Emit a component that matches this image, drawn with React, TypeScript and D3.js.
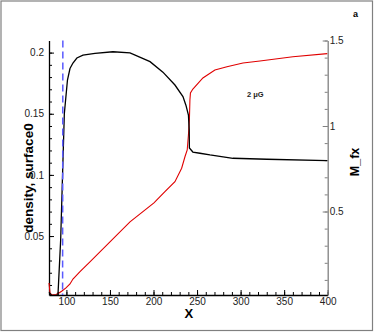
import React, { useEffect, useRef } from 'react';
import * as d3 from 'd3';

// density (left axis), black
const densityX = [80, 83, 88, 90.3, 93.4, 97.6, 101.2, 104.1, 107.5, 112, 119, 132.8, 153.4, 173, 196, 210.8, 224.6, 233.8, 237.2, 240.1, 241, 241.2, 245.2, 253.3, 264.8, 291.2, 330.2, 399.5];
const densityY = [0.004, 0.0015, 0.0015, 0.002, 0.047, 0.15, 0.1776, 0.187, 0.1915, 0.1956, 0.198, 0.1993, 0.2007, 0.1997, 0.1926, 0.184, 0.1735, 0.164, 0.157, 0.149, 0.1366, 0.122, 0.1187, 0.1177, 0.1163, 0.1136, 0.1128, 0.1116];

// M_fx (right axis), red
const mfxX = [80, 81.2, 83.4, 88, 91.5, 94.9, 99.5, 104.1, 107.5, 115.6, 127, 150, 173, 200.5, 213.1, 224.6, 232.3, 236.1, 238.7, 240.1, 241.2, 241.8, 242.4, 245.2, 256.7, 270.5, 284.3, 302.7, 322.2, 360, 399.5];
const mfxY = [0.082, 0.023, 0.012, 0.015, 0.023, 0.035, 0.053, 0.076, 0.105, 0.148, 0.205, 0.323, 0.439, 0.55, 0.616, 0.674, 0.753, 0.82, 0.86, 0.947, 1.035, 1.152, 1.193, 1.216, 1.281, 1.327, 1.347, 1.368, 1.38, 1.405, 1.423];

// surface0 (left axis), blue dashed
const surfX = [95.9, 95.6];
const surfY = [0.2099, 0.0018];

const xMajor = [100, 150, 200, 250, 300, 350, 400];
const xMinor = d3.range(80, 401, 10);
const leftMajor = [0.05, 0.1, 0.15, 0.2];
const leftMinor = d3.range(1, 21).map(d => d / 100);
const rightMajor = [0.5, 1, 1.5];
const rightMinor = d3.range(1, 16).map(d => d / 10);

const FONT = "'Liberation Sans', Arial, sans-serif";

export default function App() {
  const ref = useRef<SVGSVGElement>(null);

  useEffect(() => {
    const svg = d3.select(ref.current);
    svg.selectAll('*').remove();

    const left = 49, right = 327.7, top = 40.5, bottom = 295;

    const x = d3.scaleLinear().domain([80, 400]).range([left, right]);
    const yL = d3.scaleLinear().domain([0.0018, 0.2099]).range([bottom, top]);
    const yR = d3.scaleLinear().domain([0.0117, 1.5]).range([bottom, top]);

    // outer frame
    svg.append('rect')
      .attr('x', 1).attr('y', 1)
      .attr('width', 371.5).attr('height', 329.5)
      .attr('fill', 'white')
      .attr('stroke', '#808080')
      .attr('stroke-width', 1.2);

    // minor ticks
    svg.append('g')
      .attr('transform', `translate(0,${bottom})`)
      .call(d3.axisBottom(x).tickValues(xMinor).tickSize(-3).tickFormat(() => ''))
      .call(g => g.select('.domain').remove())
      .selectAll('line').attr('stroke', '#000');

    svg.append('g')
      .attr('transform', `translate(${left},0)`)
      .call(d3.axisLeft(yL).tickValues(leftMinor).tickSize(-3).tickFormat(() => ''))
      .call(g => g.select('.domain').remove())
      .selectAll('line').attr('stroke', '#000');

    svg.append('g')
      .attr('transform', `translate(${right},0)`)
      .call(d3.axisRight(yR).tickValues(rightMinor).tickSize(-3).tickFormat(() => ''))
      .call(g => g.select('.domain').remove())
      .selectAll('line').attr('stroke', '#808080');

    // major axes
    const xAxis = svg.append('g')
      .attr('transform', `translate(0,${bottom})`)
      .call(d3.axisBottom(x).tickValues(xMajor).tickSize(-5).tickSizeOuter(0).tickPadding(3).tickFormat(d3.format('d')));
    xAxis.select('.domain').attr('stroke', '#000').attr('stroke-width', 1.3);

    const lAxis = svg.append('g')
      .attr('transform', `translate(${left},0)`)
      .call(d3.axisLeft(yL).tickValues(leftMajor).tickSize(-5).tickSizeOuter(0).tickPadding(5).tickFormat(d => String(d)));
    lAxis.select('.domain').attr('stroke', '#000').attr('stroke-width', 1.3);

    const rAxis = svg.append('g')
      .attr('transform', `translate(${right},0)`)
      .call(d3.axisRight(yR).tickValues(rightMajor).tickSize(-5).tickSizeOuter(0).tickPadding(2).tickFormat(d => String(d)));
    rAxis.select('.domain').attr('stroke', '#808080').attr('stroke-width', 1.3);
    rAxis.selectAll('.tick line').attr('stroke', '#808080');

    svg.selectAll('.tick text')
      .attr('font-family', FONT)
      .attr('font-size', 10)
      .attr('fill', '#222');

    // curves
    const pathL = (xs: number[], ys: number[]) =>
      d3.line<number>().x(d => x(xs[d])).y(d => yL(ys[d]))(d3.range(xs.length));
    const pathR = (xs: number[], ys: number[]) =>
      d3.line<number>().x(d => x(xs[d])).y(d => yR(ys[d]))(d3.range(xs.length));

    svg.append('path')
      .attr('d', pathR(mfxX, mfxY))
      .attr('fill', 'none')
      .attr('stroke', '#e00000')
      .attr('stroke-width', 1.1);

    svg.append('path')
      .attr('d', pathL(densityX, densityY))
      .attr('fill', 'none')
      .attr('stroke', '#000')
      .attr('stroke-width', 1.3);

    svg.append('path')
      .attr('d', pathL(surfX, surfY))
      .attr('fill', 'none')
      .attr('stroke', '#5a5aff')
      .attr('stroke-width', 1.5)
      .attr('stroke-dasharray', '7,4');

    // axis titles
    svg.append('text')
      .attr('x', (left + right) / 2 + 0.5)
      .attr('y', 318)
      .attr('text-anchor', 'middle')
      .attr('font-family', FONT)
      .attr('font-weight', 'bold')
      .attr('font-size', 13)
      .text('X');

    svg.append('text')
      .attr('transform', 'translate(33,178) rotate(-90)')
      .attr('text-anchor', 'middle')
      .attr('font-family', FONT)
      .attr('font-weight', 'bold')
      .attr('font-size', 13.5)
      .text('density, surface0');

    svg.append('text')
      .attr('transform', 'translate(359,162) rotate(-90)')
      .attr('text-anchor', 'middle')
      .attr('font-family', FONT)
      .attr('font-weight', 'bold')
      .attr('font-size', 12.5)
      .text('M_fx');

    svg.append('text')
      .attr('x', 247)
      .attr('y', 96.5)
      .attr('font-family', FONT)
      .attr('font-weight', 'bold')
      .attr('font-size', 7.5)
      .attr('fill', '#222')
      .text('2 \u03bcG');

    svg.append('text')
      .attr('x', 353)
      .attr('y', 17)
      .attr('font-family', FONT)
      .attr('font-weight', 'bold')
      .attr('font-size', 9)
      .text('a');
  }, []);

  return (
    <svg
      ref={ref}
      width={374}
      height={332}
      style={{ position: 'absolute', left: 0, top: 0 }}
    />
  );
}
